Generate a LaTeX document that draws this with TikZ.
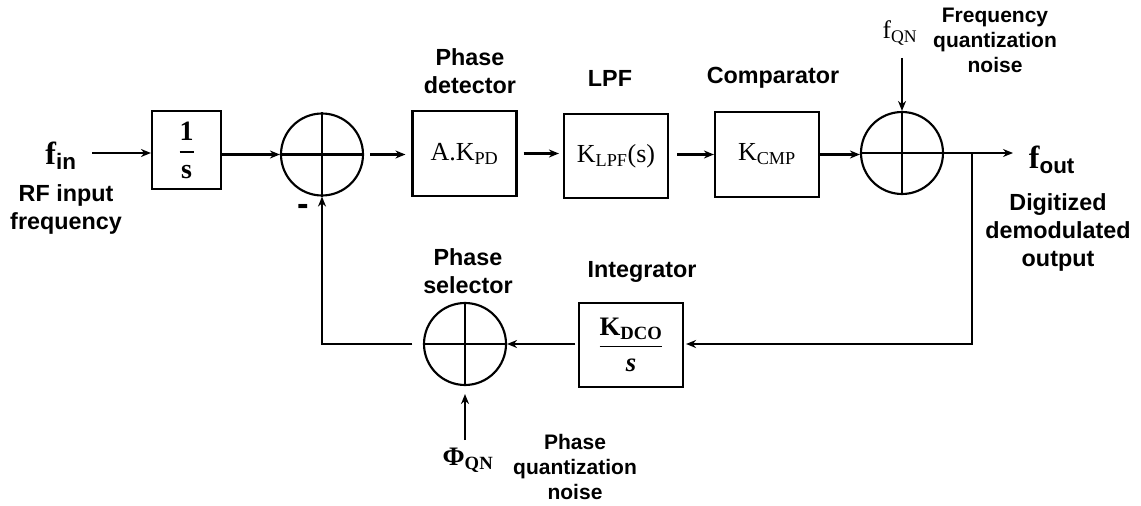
\RequirePackage{fix-cm}
\documentclass[tikz,border=0pt]{standalone}
\usepackage{amsmath}
\usepackage{fontspec}
\setmainfont{Liberation Sans}
\newfontfamily\cam{Liberation Serif}
\usetikzlibrary{arrows.meta}
\begin{document}
\begin{tikzpicture}[x=0.75pt,y=-0.75pt,
  line width=1.6pt,
  >={Stealth[length=7.5pt,width=6pt]},
  blk/.style={draw, line width=1.6pt, inner sep=0pt, minimum width=78pt, minimum height=63.5pt, font=\cam\fontsize{19.5}{22}\selectfont},
  sum/.style={draw, circle, minimum size=61.5pt, inner sep=0pt},
  lbl/.style={font=\bfseries\fontsize{17.5}{21}\selectfont, align=center},
  nlbl/.style={font=\bfseries\fontsize{15.75}{18.75}\selectfont, align=center},
  sig/.style={font=\fontsize{24}{28}\selectfont, inner sep=0pt},
]
\useasboundingbox (0,0) rectangle (1141,506);

% blocks
\node[blk, minimum width=51.75pt, minimum height=58.5pt, font=\cam\fontsize{21}{24}\selectfont] (b1) at (186.5,150) {$\dfrac{\text{\cam\bfseries 1}}{\text{\cam\bfseries s}}$};
\node[sum] (s1) at (322,154.5) {};
\node[blk] (pd) at (464.5,153.5) {A.K\textsubscript{PD}};
\node[blk] (lpf) at (616,156) {K\textsubscript{LPF}(s)};
\node[blk] (cmp) at (767,154.5) {K\textsubscript{CMP}};
\node[sum] (s2) at (902,153) {};
\node[blk, font=\cam\fontsize{20}{23}\selectfont] (int) at (631,345) {$\dfrac{\text{\cam\bfseries K\textsubscript{DCO}}}{\text{\cam\bfseries\itshape s}}$};
\node[sum] (s3) at (465,344) {};
\foreach \s in {s1,s2,s3} \draw (\s.north) -- (\s.south) (\s.west) -- (\s.east);

% labels
\node[sig] (fin) at (61,156) {{\cam\bfseries f}\textsubscript{\bfseries in}};
\node[lbl] (rf) at (66,209) {RF input\\frequency};
\node[lbl] (pdl) at (470,71) {Phase\\detector};
\node[lbl] (lpfl) at (610,78) {LPF};
\node[lbl] (cmpl) at (773,78) {Comparator};
\node[nlbl] (fqnl) at (995,40) {Frequency\\quantization\\noise};
\node[font=\cam\fontsize{19}{22}\selectfont] (fqn) at (900,33) {f\textsubscript{QN}};
\node[sig] (fout) at (1052,160) {{\cam\bfseries f}\textsubscript{\bfseries out}};
\node[lbl] (dig) at (1058,232) {Digitized\\demodulated\\output};
\node[lbl] (intl) at (642,272) {Integrator};
\node[lbl] (psl) at (468,271) {Phase\\selector};
\node[font=\cam\bfseries\fontsize{20}{24}\selectfont] (phi) at (468,460) {Φ\textsubscript{QN}};
\node[nlbl] (pql) at (575,467) {Phase\\quantization\\noise};
\node[font=\bfseries\fontsize{26}{30}\selectfont] (minus) at (303,210) {-};

% coordinates
\coordinate (finA) at (92,153);
\coordinate (outA) at (1013,153);
\coordinate (br) at (972,153);
\coordinate (brD) at (972,344);
\coordinate (fb) at (322,344);
\coordinate (fqnA) at (902,58);
\coordinate (phiA) at (465,440);

% connectors
\draw[->] (finA) -- (finA -| b1.west);
\draw[->] (b1.east |- s1) -- (s1.west);
\draw[->, shorten <=4.5pt, shorten >=4.5pt] (s1.east) -- (s1.east -| pd.west);
\draw[->, shorten <=4.5pt, shorten >=3pt] (pd.east) -- (pd.east -| lpf.west);
\draw[->, shorten <=6pt] (lpf.east |- cmp) -- (cmp.west);
\draw[->] (cmp.east) -- (cmp.east -| s2.west);
\draw[->] (s2.east) -- (outA);
\draw[->, shorten >=1.5pt] (br) -- (brD) -- (brD -| int.east);
\draw[->, shorten <=2pt] (int.west |- s3) -- (s3.east);
\draw[->, shorten <=8pt] (s3.west) -- (fb) -- (s1.south);
\draw[->] (fqnA) -- (s2.north);
\draw[->, shorten >=6pt] (phiA) -- (s3.south);
\end{tikzpicture}
\end{document}
